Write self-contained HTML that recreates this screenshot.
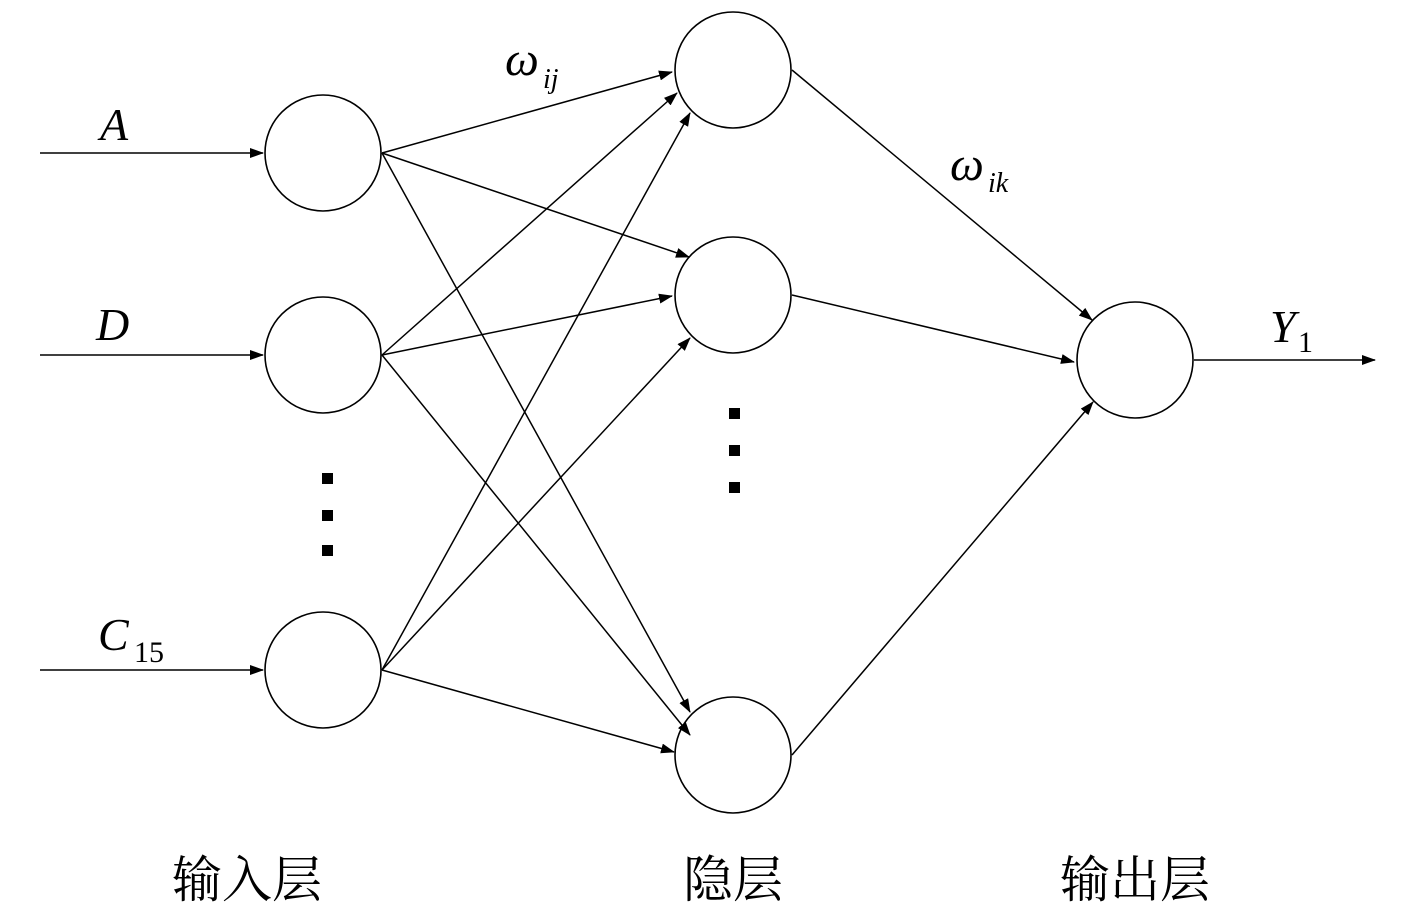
<!DOCTYPE html>
<html><head><meta charset="utf-8"><style>
html,body{margin:0;padding:0;background:#fff;}
svg{display:block}
.t{font-family:"Liberation Serif",serif;font-style:italic;fill:#000}
.c{font-family:"Liberation Serif","Noto Serif CJK SC",serif;font-size:50px;fill:#000}
</style></head><body>
<svg width="1417" height="909" viewBox="0 0 1417 909" xmlns="http://www.w3.org/2000/svg">
<defs><marker id="a" markerWidth="14" markerHeight="10" refX="13" refY="5" orient="auto" markerUnits="userSpaceOnUse"><path d="M0,0 L14,5 L0,10 z" fill="#000"/></marker></defs>
<g fill="none" stroke="#000" stroke-width="1.6">
<circle cx="323" cy="153" r="58"/><circle cx="323" cy="355" r="58"/><circle cx="323" cy="670" r="58"/>
<circle cx="733" cy="70" r="58"/><circle cx="733" cy="295" r="58"/><circle cx="733" cy="755" r="58"/>
<circle cx="1135" cy="360" r="58"/>
</g>
<g stroke="#000" stroke-width="1.5" marker-end="url(#a)">
<line x1="40" y1="153" x2="263" y2="153"/>
<line x1="40" y1="355" x2="263" y2="355"/>
<line x1="40" y1="670" x2="263" y2="670"/>
<line x1="382" y1="153" x2="672" y2="72"/>
<line x1="382" y1="153" x2="689" y2="257"/>
<line x1="382" y1="153" x2="690" y2="712"/>
<line x1="382" y1="355" x2="677" y2="93"/>
<line x1="382" y1="355" x2="672" y2="296"/>
<line x1="382" y1="355" x2="690" y2="735"/>
<line x1="382" y1="670" x2="690" y2="113"/>
<line x1="382" y1="670" x2="690" y2="338"/>
<line x1="382" y1="670" x2="674" y2="752"/>
<line x1="792" y1="70" x2="1092" y2="320"/>
<line x1="792" y1="295" x2="1074" y2="362"/>
<line x1="792" y1="755" x2="1093" y2="402"/>
<line x1="1194" y1="360" x2="1375" y2="360"/>
</g>
<g fill="#000">
<rect x="322" y="473" width="11" height="11"/><rect x="322" y="510" width="11" height="11"/><rect x="322" y="545" width="11" height="11"/>
<rect x="729" y="408" width="11" height="11"/><rect x="729" y="445" width="11" height="11"/><rect x="729" y="482" width="11" height="11"/>
</g>
<text class="t" x="100" y="140" font-size="46">A</text>
<text class="t" x="96" y="340" font-size="46">D</text>
<text class="t" x="98" y="650" font-size="46">C</text><text x="134" y="662" font-size="30" font-family="Liberation Serif,serif">15</text>
<text class="t" x="505" y="75" font-size="48">ω</text><text class="t" x="543" y="88" font-size="28">ij</text>
<text class="t" x="950" y="180" font-size="48">ω</text><text class="t" x="988" y="192" font-size="28">ik</text>
<text class="t" x="1270" y="342" font-size="46">Y</text><text x="1298" y="352" font-size="30" font-family="Liberation Serif,serif">1</text>
<text class="c" x="172" y="897">输入层</text>
<text class="c" x="683" y="897">隐层</text>
<text class="c" x="1060" y="897">输出层</text>
</svg>
</body></html>
